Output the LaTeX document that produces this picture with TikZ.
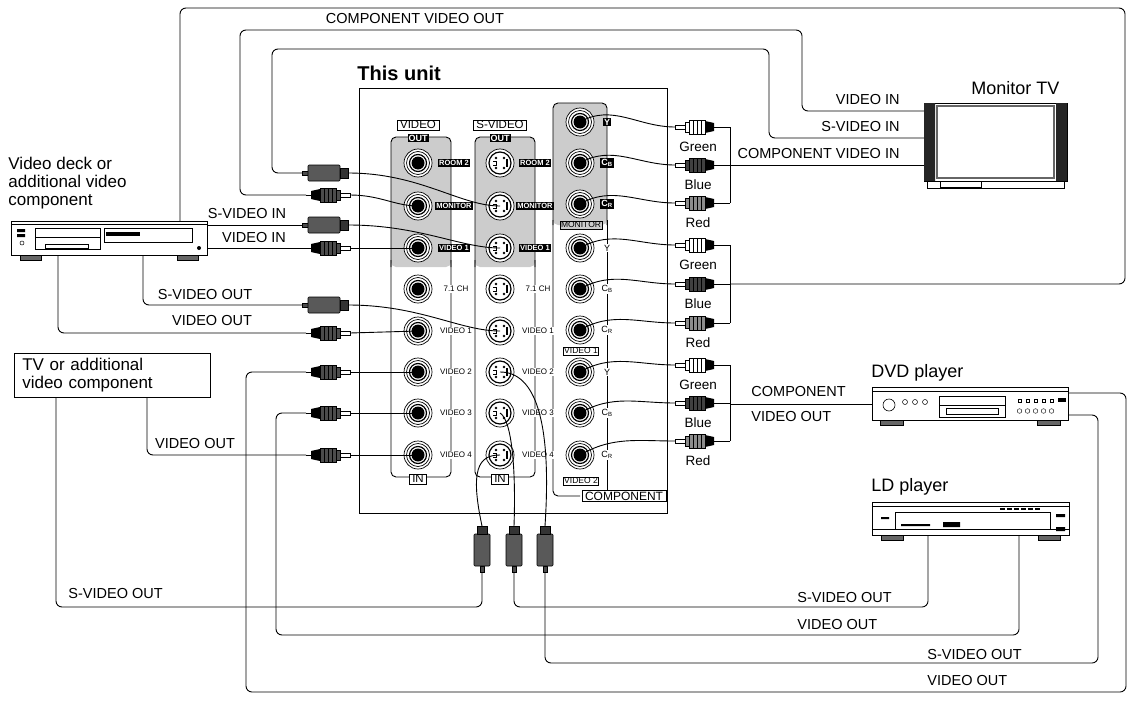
\documentclass[tikz,border=0pt]{standalone}
\usepackage{fontspec}
\setmainfont{Liberation Sans}
\begin{document}
\begin{tikzpicture}[x=1pt,y=-1pt,line width=0.9pt,
  lbl/.style={font=\fontsize{14.5}{15}\selectfont,inner sep=0pt},
  clr/.style={font=\fontsize{13.5}{14}\selectfont,inner sep=0pt},
  big/.style={font=\fontsize{18}{19}\selectfont,inner sep=0pt,anchor=west},
  tiny/.style={font=\fontsize{8}{9}\selectfont,inner sep=1pt},
  blk/.style={font=\bfseries\fontsize{7.5}{8}\selectfont,inner sep=1pt,fill=black,text=white},
  box/.style={font=\fontsize{11.5}{12}\selectfont,inner sep=1pt,inner xsep=3pt,draw,fill=white,line width=0.7pt},
  wire/.style={line width=0.9pt,rounded corners=6pt},
  jack/.pic={\draw[line width=0.7pt,fill=white] (0,0) circle(14); \draw[line width=0.7pt] (0,0) circle(11.5); \draw[line width=1.2pt] (0,0) circle(8.5); \fill (0,0) circle(6.5);},
  sjack/.pic={\draw[line width=0.7pt,fill=white] (0,0) circle(14); \draw[line width=1.2pt] (0,0) circle(11); \fill (-4,-5) circle(1.3) (4,-5) circle(1.3) (-4,5) circle(1.3) (4,5) circle(1.3); \fill (6,-4) rectangle (8,4); \draw[line width=0.7pt] (-7,-2) -- (-4,-2) -- (-4,2) -- (-7,2);},
  rca/.pic={\draw (0,0)--(5,0); \fill[black] (5,-4) -- (14,-6) -- (14,6) -- (5,4) -- cycle;
     \draw[line width=0.6pt,fill=pfill] (14,-7) rectangle (30,7); \foreach \i in {18,22,26}{\draw[line width=0.5pt] (\i,-7)--(\i,7);}
     \draw[line width=0.6pt,fill=pfill] (30,-5) rectangle (34,5); \draw[line width=0.6pt,fill=white] (34,-2) rectangle (44,2);},
  splug/.pic={\draw[fill=black!70] (0,-2) rectangle (6,2); \draw[line width=0.6pt,fill=black!65,rounded corners=1pt] (6,-8) rectangle (38,8); \draw[line width=0.6pt,fill=black!80] (38,-5) rectangle (46,5);},
]
\colorlet{pfill}{black!70}
\useasboundingbox (0,0) rectangle (1131,701);

% ---------- unit ----------
\node[anchor=west,font=\bfseries\fontsize{20}{21}\selectfont,inner sep=0pt] (unitlbl) at (357,73) {This unit};
\draw (359,88) rectangle (667,513);
% video panel
\fill[black!20,rounded corners=5pt] (391,137) rectangle (451,267);
\draw[rounded corners=5pt] (391,267) -- (391,137) -- (451,137) -- (451,267);
\draw[rounded corners=5pt] (391,260) -- (391,477) -- (451,477) -- (451,260);
\node[box] at (418,125) {VIDEO};
\node[blk,font=\bfseries\fontsize{9}{10}\selectfont] at (418,138) {OUT};
\node[box] at (418,479) {IN};
% s-video panel
\fill[black!20,rounded corners=5pt] (475,137) rectangle (535,267);
\draw[rounded corners=5pt] (475,267) -- (475,137) -- (535,137) -- (535,267);
\draw[rounded corners=5pt] (475,260) -- (475,477) -- (535,477) -- (535,260);
\node[box] at (500,125) {S-VIDEO};
\node[blk,font=\bfseries\fontsize{9}{10}\selectfont] at (500,138) {OUT};
\node[box] at (500,479) {IN};
% component panel
\fill[black!20,rounded corners=5pt] (553,225) -- (553,103) -- (607,103) -- (607,225) -- cycle;
\draw[rounded corners=5pt] (553,225) -- (553,103) -- (607,103) -- (607,225);
\draw[rounded corners=5pt] (553,220) -- (553,496) -- (580,496);
\draw (607,220) -- (607,496);
\node[box,fill=black!20,font=\fontsize{8.5}{9}\selectfont,inner xsep=1pt] at (581,225) {MONITOR};
\node[box,font=\fontsize{8.5}{9}\selectfont,inner xsep=1pt] at (581,351) {VIDEO 1};
\node[box,font=\fontsize{8.5}{9}\selectfont,inner xsep=1pt] at (581,481) {VIDEO 2};
\node[box,font=\fontsize{12}{13}\selectfont] at (624,496) {COMPONENT};

% jacks
\foreach \y/\n [count=\k] in {163/ROOM 2,206/MONITOR,248/VIDEO 1}{
  \pic at (418,\y) {jack}; \coordinate (VO\k) at (418,\y); \node[blk] at (454,\y) {\n};
  \pic at (500,\y) {sjack}; \coordinate (SO\k) at (500,\y); \node[blk] at (535,\y) {\n};}
\foreach \y/\n [count=\k] in {289/7.1 CH,331/VIDEO 1,372/VIDEO 2,413/VIDEO 3,455/VIDEO 4}{
  \pic at (418,\y) {jack}; \coordinate (VI\k) at (418,\y); \node[tiny,fill=white] at (456,\y) {\n};
  \pic at (500,\y) {sjack}; \coordinate (SI\k) at (500,\y); \node[tiny,fill=white] at (538,\y) {\n};}
\foreach \y/\n [count=\k] in {122/Y,163/C\textsubscript{B},204/C\textsubscript{R}}{
  \pic at (580,\y) {jack}; \coordinate (CM\k) at (580,\y); \node[blk,font=\bfseries\fontsize{9}{10}\selectfont] at (607,\y) {\n};}
\foreach \y/\n [count=\k] in {248/Y,289/C\textsubscript{B},330/C\textsubscript{R},372/Y,413/C\textsubscript{B},455/C\textsubscript{R}}{
  \pic at (580,\y) {jack}; \coordinate (CV\k) at (580,\y); \node[tiny,fill=white,font=\fontsize{9}{10}\selectfont] at (607,\y) {\n};}

% ---------- right plugs ----------
\foreach \y/\c/\t [count=\k] in {127/white/Green,165/black!75/Blue,203/black!45/Red,245/white/Green,284/black!75/Blue,323/black!45/Red,365/white/Green,403/black!75/Blue,441/black!45/Red}{
  \colorlet{pfill}{\c}
  \pic[xscale=-1] at (719,\y) {rca};
  \coordinate (RP\k) at (675,\y);
  \node[clr] at (698,\y+20) {\t};
  \draw (719,\y) -- (730,\y);}
\colorlet{pfill}{black!70}
\draw (730,127) -- (730,203);
\draw (730,245) -- (730,323);
\draw (730,365) -- (730,441);
\draw (CM1) to[out=30,in=180] (RP1);
\draw (CM2) to[out=30,in=180] (RP2);
\draw (CM3) to[out=30,in=180] (RP3);
\draw (CV1) to[out=30,in=180] (RP4);
\draw (CV2) to[out=30,in=180] (RP5);
\draw (CV3) to[out=30,in=180] (RP6);
\draw (CV4) to[out=30,in=180] (RP7);
\draw (CV5) to[out=30,in=180] (RP8);
\draw (CV6) to[out=30,in=180] (RP9);

% ---------- Monitor TV ----------
\node[big] (montv) at (971,88) {Monitor TV};
\draw[fill=white] (924,103) rectangle (1067,181);
\fill[black!85] (924,103) rectangle (935,181) (1056,103) rectangle (1067,181);
\draw[line width=1.5pt,black!60] (937,106) rectangle (1054,178);
\draw[line width=0.6pt] (927,181) rectangle (1064,188);
\draw[line width=0.6pt] (940,181) rectangle (981,187);
\coordinate (tvV) at (924,111); \coordinate (tvS) at (924,138); \coordinate (tvC) at (924,165);
\draw[wire] (tvV) -- (802,111) -- (802,30) -- (240,30) -- (240,195) -- (306,195);
\draw[wire] (tvS) -- (769,138) -- (769,49) -- (272,49) -- (272,173) -- (302,173);
\draw (tvC) -- (730,165);
\node[lbl,anchor=east] at (900,100) {VIDEO IN};
\node[lbl,anchor=east] at (900,127) {S-VIDEO IN};
\node[lbl,anchor=east] at (900,154) {COMPONENT VIDEO IN};
% outer loop
\draw[wire] (180,221) -- (180,8) -- (1125,8) -- (1125,284) -- (730,284);
\node[lbl] at (415,19) {COMPONENT VIDEO OUT};

% ---------- Video deck ----------
\node[align=left,anchor=north west,font=\fontsize{17}{18}\selectfont,inner sep=0pt] (decklbl) at (8,157) {Video deck or\\additional video\\component};
\draw[fill=white,line width=0.7pt] (11,221) rectangle (207,255);
\draw[line width=0.5pt] (11,224)--(207,224);
\draw[line width=0.6pt] (35,228) rectangle (100,249); \draw[line width=0.5pt] (35,237)--(100,237);
\draw[line width=0.5pt] (45,244) rectangle (88,248);
\draw[line width=0.5pt] (104,228) rectangle (192,242);
\fill (106,232) rectangle (140,236);
\fill (199,248) circle(2);
\fill (17,229) rectangle (25,232) (17,234) rectangle (25,237); \draw[line width=0.5pt] (22,243) circle(2);
\draw[fill=black!60,line width=0.5pt] (20,255) rectangle (41,260) (177,255) rectangle (198,260);
\draw (207,225) -- (302,225);
\draw (207,248) -- (306,248);
\draw[wire] (143,255) -- (143,305) -- (302,305);
\draw[wire] (58,255) -- (58,333) -- (306,333);
\node[lbl] at (247,214) {S-VIDEO IN};
\node[lbl] at (254,238) {VIDEO IN};
\node[lbl] at (205,295) {S-VIDEO OUT};
\node[lbl] at (212,321) {VIDEO OUT};

% left plugs
\pic at (302,173) {splug}; \pic at (306,195) {rca};
\pic at (302,225) {splug}; \pic at (306,248) {rca};
\pic at (302,305) {splug}; \pic at (306,333) {rca};
\pic at (306,372) {rca}; \pic at (306,413) {rca}; \pic at (306,455) {rca};
\draw (348,173) .. controls (420,173) and (460,206) .. (SO2);
\draw (350,195) .. controls (380,195) and (395,206) .. (VO2);
\draw (348,225) .. controls (420,225) and (460,248) .. (SO3);
\draw (350,248) -- (VO3);
\draw (348,305) .. controls (420,305) and (460,331) .. (SI2);
\draw (350,333) -- (VI2);
\draw (350,372) -- (VI3);
\draw (350,413) -- (VI4);
\draw (350,455) -- (VI5);

% ---------- TV or additional ----------
\node[draw,line width=0.6pt,minimum width=195pt,minimum height=44pt,anchor=north west,align=left,font=\fontsize{17}{18}\selectfont,text width=180pt,inner xsep=8pt] (tvbox) at (14,353) {TV or additional\\video component};
\draw[wire] (147,397) -- (147,455) -- (306,455);
\draw[wire] (56,397) -- (56,607) -- (482,607) -- (482,572);
\node[lbl] at (195,444) {VIDEO OUT};
\node[lbl,anchor=west] at (68,593) {S-VIDEO OUT};

% bottom S plugs
\foreach \x [count=\k] in {482,514,545}{\pic[rotate=90] at (\x,572) {splug}; \coordinate (BP\k) at (\x,526);}
\draw (BP1) .. controls (470,470) and (478,455) .. (SI5);
\draw (BP2) .. controls (516,470) and (512,420) .. (SI4);
\draw (BP3) .. controls (552,420) and (535,372) .. (SI3);

% ---------- DVD ----------
\node[big] (dvdlbl) at (871,373) {DVD player};
\draw[fill=white,line width=0.7pt] (872,387) rectangle (1068,420);
\draw[line width=0.5pt] (872,391)--(1068,391);
\draw[line width=0.6pt] (889,405) circle(6);
\foreach \x in {905,915,925}{\draw[line width=0.5pt] (\x,402) circle(2.5);}
\draw[line width=0.7pt] (939,396) rectangle (1005,417); \draw[line width=0.5pt] (939,405)--(1005,405) (946,408) rectangle (998,414);
\foreach \x in {1018,1026,1034,1042,1050}{\draw[line width=0.4pt] (\x,399) rectangle (\x+3,402); \draw[line width=0.4pt] (\x+1.5,411) circle(2.3);}
\fill (1058,398) rectangle (1066,402);
\draw[fill=black!60,line width=0.5pt] (880,420) rectangle (903,425) (1037,420) rectangle (1060,425);
\draw (872,404) -- (730,404);
\node[lbl,anchor=west] at (751,392) {COMPONENT};
\node[lbl,anchor=west] at (751,417) {VIDEO OUT};
\draw[wire] (1068,393) -- (1126,393) -- (1126,692) -- (246,692) -- (246,372) -- (306,372);
\draw[wire] (1068,415) -- (1098,415) -- (1098,663) -- (545,663) -- (545,572);
\node[lbl,anchor=west] at (927,654) {S-VIDEO OUT};
\node[lbl,anchor=west] at (927,680) {VIDEO OUT};

% ---------- LD ----------
\node[big] (ldlbl) at (871,487) {LD player};
\draw[fill=white,line width=0.7pt] (872,502) rectangle (1069,535);
\draw[line width=0.5pt] (872,506)--(1069,506) (872,529)--(1069,529);
\draw[line width=0.6pt] (895,512) rectangle (1050,529);
\fill (881,517) rectangle (889,519) (901,524) rectangle (930,526) (943,522) rectangle (960,527);
\foreach \x in {1000,1007,1014,1021,1028,1035}{\fill (\x,508) rectangle (\x+5,510);}
\fill (1056,514) rectangle (1065,517) (1056,527) rectangle (1065,531);
\draw[fill=black!60,line width=0.5pt] (881,535) rectangle (903,540) (1038,535) rectangle (1060,540);
\draw[wire] (928,535) -- (928,607) -- (514,607) -- (514,572);
\draw[wire] (1019,535) -- (1019,635) -- (276,635) -- (276,413) -- (306,413);
\node[lbl,anchor=west] at (797,597) {S-VIDEO OUT};
\node[lbl,anchor=west] at (797,624) {VIDEO OUT};
\end{tikzpicture}
\end{document}
